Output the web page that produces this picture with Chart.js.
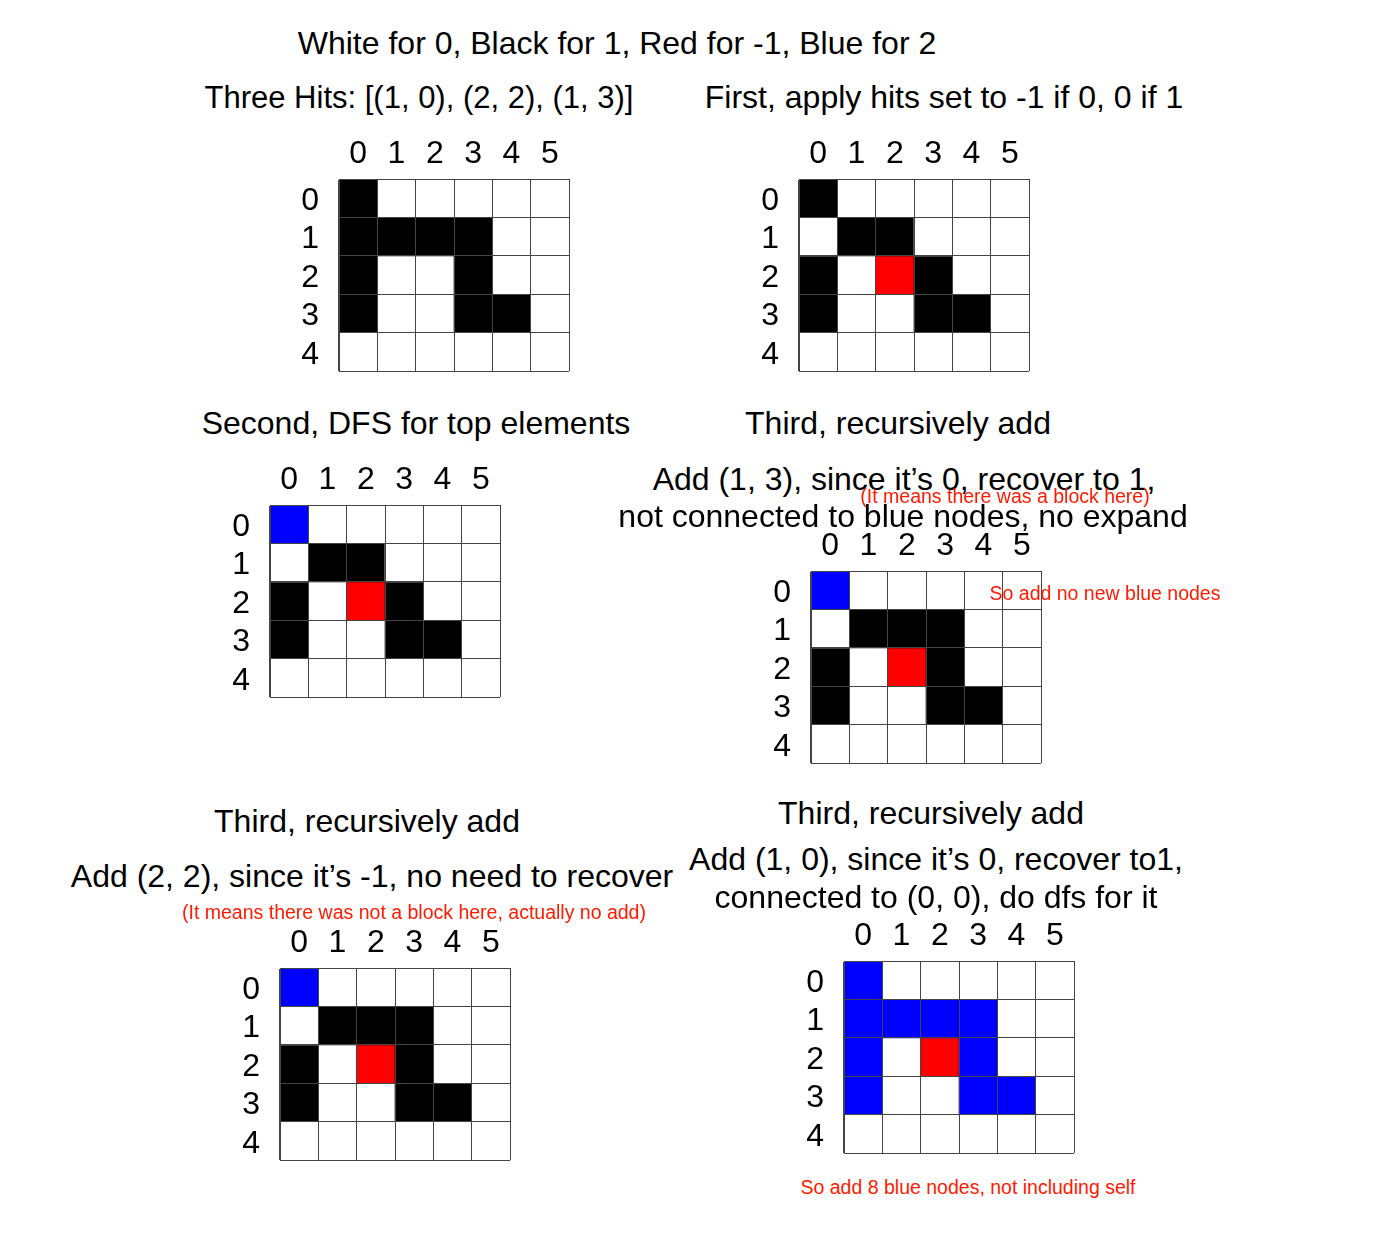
<!DOCTYPE html>
<html>
<head>
<meta charset="utf-8">
<script src="https://cdn.jsdelivr.net/npm/chart.js@4.4.1/dist/chart.umd.min.js"></script>
<style>
  html, body { margin: 0; padding: 0; background: #fff; }
  body { width: 1382px; height: 1246px; position: relative; overflow: hidden;
         font-family: "Liberation Sans", Arial, Helvetica, sans-serif; }
  .t { position: absolute; white-space: nowrap; transform: translate(-50%, -50%);
       line-height: 1; color: #000; font-size: 32px; z-index: 5; }
  .r { color: #ff1a00; font-size: 19.5px; }
  .g { position: absolute; z-index: 1; }
</style>
</head>
<body>
<div class="t" style="left:617px;top:43px">White for 0, Black for 1, Red for -1, Blue for 2</div>
<div class="t" style="left:419px;top:97px;font-size:31px">Three Hits: [(1, 0), (2, 2), (1, 3)]</div>
<div class="t" style="left:944px;top:97px">First, apply hits set to -1 if 0, 0 if 1</div>
<div class="t" style="left:416px;top:423px">Second, DFS for top elements</div>
<div class="t" style="left:898px;top:423px">Third, recursively add</div>
<div class="t" style="left:904px;top:479px">Add (1, 3), since it’s 0, recover to 1,</div>
<div class="t" style="left:903px;top:516px">not connected to blue nodes, no expand</div>
<div class="t r" style="left:1005px;top:497px">(It means there was a block here)</div>
<div class="t r" style="left:1105px;top:594px">So add no new blue nodes</div>
<div class="t" style="left:367px;top:821px">Third, recursively add</div>
<div class="t" style="left:372px;top:876px">Add (2, 2), since it’s -1, no need to recover</div>
<div class="t r" style="left:414px;top:913px">(It means there was not a block here, actually no add)</div>
<div class="t" style="left:931px;top:813px">Third, recursively add</div>
<div class="t" style="left:936px;top:859px">Add (1, 0), since it’s 0, recover to1,</div>
<div class="t" style="left:936px;top:897px">connected to (0, 0), do dfs for it</div>
<div class="t r" style="left:968px;top:1188px">So add 8 blue nodes, not including self</div>

<script>
// Cell values: 0 = white, 1 = black, -1 = red, 2 = blue
const colLabels = ['0', '1', '2', '3', '4', '5'];
const rowLabels = ['0', '1', '2', '3', '4'];

const gridOriginal = [
  [1, 0, 0, 0, 0, 0],
  [1, 1, 1, 1, 0, 0],
  [1, 0, 0, 1, 0, 0],
  [1, 0, 0, 1, 1, 0],
  [0, 0, 0, 0, 0, 0]
];
const gridHits = [
  [1, 0, 0, 0, 0, 0],
  [0, 1, 1, 0, 0, 0],
  [1, 0, -1, 1, 0, 0],
  [1, 0, 0, 1, 1, 0],
  [0, 0, 0, 0, 0, 0]
];
const gridDfs = [
  [2, 0, 0, 0, 0, 0],
  [0, 1, 1, 0, 0, 0],
  [1, 0, -1, 1, 0, 0],
  [1, 0, 0, 1, 1, 0],
  [0, 0, 0, 0, 0, 0]
];
const gridAdd13 = [
  [2, 0, 0, 0, 0, 0],
  [0, 1, 1, 1, 0, 0],
  [1, 0, -1, 1, 0, 0],
  [1, 0, 0, 1, 1, 0],
  [0, 0, 0, 0, 0, 0]
];
const gridAdd22 = [
  [2, 0, 0, 0, 0, 0],
  [0, 1, 1, 1, 0, 0],
  [1, 0, -1, 1, 0, 0],
  [1, 0, 0, 1, 1, 0],
  [0, 0, 0, 0, 0, 0]
];
const gridAdd10 = [
  [2, 0, 0, 0, 0, 0],
  [2, 2, 2, 2, 0, 0],
  [2, 0, -1, 2, 0, 0],
  [2, 0, 0, 2, 2, 0],
  [0, 0, 0, 0, 0, 0]
];

const colorFor = { '0': '#ffffff', '1': '#000000', '-1': '#ff0000', '2': '#0000ff' };
const lineColor = '#444444';

const AX_W = 70, AX_H = 50, PAD_R = 10, PAD_B = 10, GW = 230, GH = 192;

function makeGrid(grid, left, top) {
  const div = document.createElement('div');
  div.className = 'g';
  div.style.left = (left - AX_W) + 'px';
  div.style.top = (top - AX_H) + 'px';
  div.style.width = (AX_W + GW + PAD_R) + 'px';
  div.style.height = (AX_H + GH + PAD_B) + 'px';
  const c = document.createElement('canvas');
  div.appendChild(c);
  document.body.appendChild(div);

  const datasets = grid.map((row, r) => ({
    label: 'row ' + rowLabels[r],
    data: row.map(() => 1),
    backgroundColor: row.map(v => colorFor[String(v)]),
    borderWidth: 0,
    barPercentage: 1,
    categoryPercentage: 1
  }));

  new Chart(c, {
    type: 'bar',
    data: { labels: colLabels, datasets },
    options: {
      responsive: true,
      maintainAspectRatio: false,
      animation: false,
      events: [],
      layout: { padding: { left: 0, top: 0, right: PAD_R, bottom: PAD_B } },
      plugins: { legend: { display: false }, tooltip: { enabled: false }, title: { display: false } },
      scales: {
        x: {
          type: 'category',
          position: 'top',
          stacked: true,
          offset: true,
          grid: { offset: true, color: lineColor, lineWidth: 1, drawTicks: false, z: 1 },
          border: { display: true, color: lineColor, width: 1, z: 1 },
          ticks: { color: '#000', font: { size: 32, family: '"Liberation Sans", Arial, sans-serif' }, padding: 6, maxRotation: 0, autoSkip: false },
          afterFit: s => { s.height = AX_H; s.paddingLeft = 0; s.paddingRight = 0; }
        },
        y: {
          type: 'linear',
          stacked: true,
          reverse: true,
          min: 0,
          max: rowLabels.length,
          afterBuildTicks: s => {
            const t = [];
            for (let i = 0; i <= rowLabels.length * 2; i++) t.push({ value: i / 2 });
            s.ticks = t;
          },
          grid: {
            color: ctx => (ctx.tick && Number.isInteger(ctx.tick.value)) ? lineColor : 'rgba(0,0,0,0)',
            lineWidth: 1,
            drawTicks: false,
            z: 1
          },
          border: { display: true, color: lineColor, width: 1, z: 1 },
          ticks: {
            autoSkip: false,
            color: '#000',
            font: { size: 32, family: '"Liberation Sans", Arial, sans-serif' },
            padding: 20,
            labelOffset: 3,
            callback: v => Number.isInteger(v) ? '' : rowLabels[Math.floor(v)]
          },
          afterFit: s => { s.width = AX_W; s.paddingTop = 0; s.paddingBottom = 0; }
        }
      }
    }
  });
}

makeGrid(gridOriginal, 339, 179);
makeGrid(gridHits, 799, 179);
makeGrid(gridDfs, 270, 505);
makeGrid(gridAdd13, 811, 571);
makeGrid(gridAdd22, 280, 968);
makeGrid(gridAdd10, 844, 961);
</script>
</body>
</html>
